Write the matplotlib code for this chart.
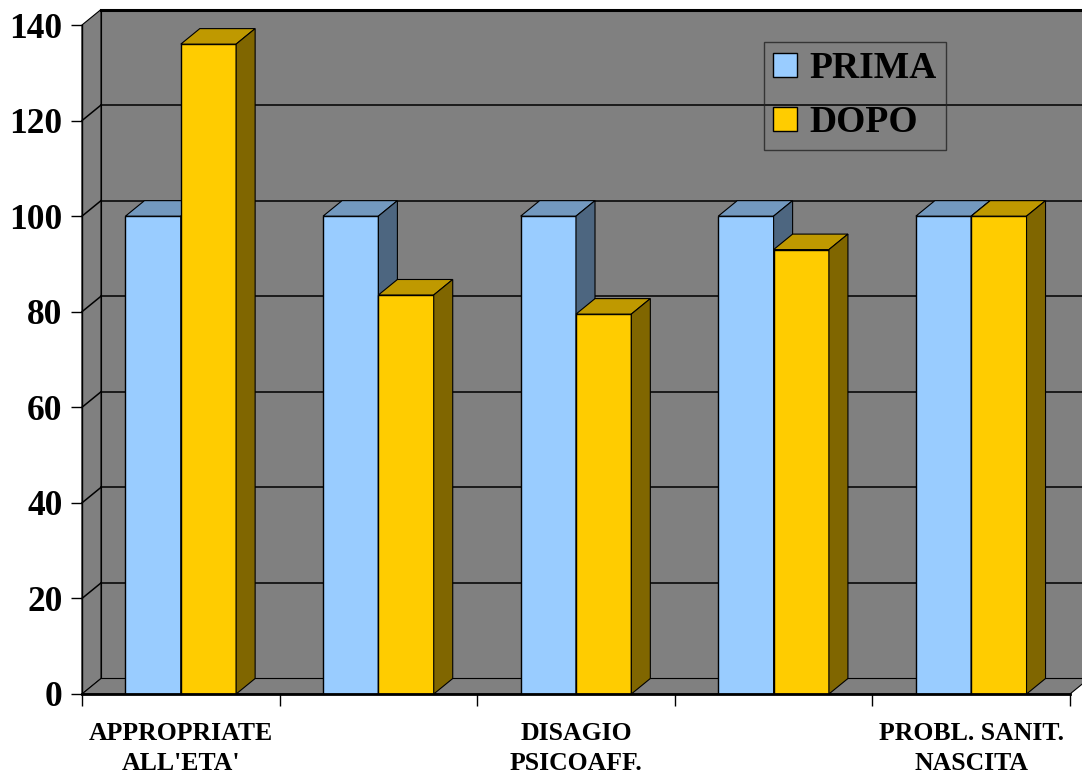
import matplotlib
matplotlib.use("Agg")
import matplotlib.pyplot as plt
from matplotlib.patches import Polygon, Patch
import numpy as np

# data
categories = ["APPROPRIATE\nALL'ETA'", "", "DISAGIO\nPSICOAFF.", "", "PROBL. SANIT.\nNASCITA"]
prima = [100, 100, 100, 100, 100]
dopo = [136, 83.5, 79.5, 93, 100]
series_names = ["PRIMA", "DOPO"]
y_ticks = [0, 20, 40, 60, 80, 100, 120, 140]

# face / top / side colours per series
colors = {
    "PRIMA": ("#99CCFF", "#7399BF", "#4D6680"),
    "DOPO": ("#FFCC00", "#BF9900", "#806600"),
}
WALL = "#808080"

plt.rcParams["font.family"] = ["Liberation Serif", "DejaVu Serif"]
plt.rcParams["font.weight"] = "bold"

fig = plt.figure(figsize=(10.82, 7.79), dpi=100)
ax = fig.add_axes([82 / 1082, 1 - 694 / 779, 988 / 1082, 669 / 779])
n = len(categories)
ymax = 140
ax.set_xlim(0, n)
ax.set_ylim(0, ymax)
ax.patch.set_visible(False)

# depth offset of the 3-D box, in data units
DX = 19 / (988 / n)
DY = 15.5 / (669 / ymax)


def poly(pts, fc, z, lw=0.8):
    p = Polygon(pts, closed=True, facecolor=fc, edgecolor="black",
                linewidth=lw, zorder=z, clip_on=False, joinstyle="miter")
    ax.add_patch(p)


# walls and floor
poly([(DX, DY), (n + DX, DY), (n + DX, ymax + DY), (DX, ymax + DY)], WALL, 0)
poly([(0, 0), (DX, DY), (DX, ymax + DY), (0, ymax)], WALL, 0)
poly([(0, 0), (n, 0), (n + DX, DY), (DX, DY)], WALL, 0)
ax.plot([DX, n + DX], [ymax + DY, ymax + DY], color="black", lw=2.2,
        zorder=1, clip_on=False)

# gridlines on back wall and side wall
for v in y_ticks[1:-1]:
    ax.plot([DX, n + DX], [v + DY, v + DY], color="black", lw=1.1,
            zorder=1, clip_on=False)
    ax.plot([0, DX], [v, v + DY], color="black", lw=1.1, zorder=1, clip_on=False)

# bars, left to right so right-hand bars hide the sides of the left ones
width = 0.28
x = np.arange(n)
z = 2
for i in range(n):
    for name, vals, off in (("PRIMA", prima, -width), ("DOPO", dopo, 0.0)):
        face, top, side = colors[name]
        x0 = x[i] + 0.5 + off
        x1 = x0 + width
        h = vals[i]
        ax.bar(x0, h, width=width, align="edge", color=face, edgecolor="black",
               linewidth=1.0, zorder=z)
        poly([(x0, h), (x1, h), (x1 + DX, h + DY), (x0 + DX, h + DY)], top, z)
        poly([(x1, 0), (x1 + DX, DY), (x1 + DX, h + DY), (x1, h)], side, z)
        z += 1

# axes, ticks, labels
for s in ("top", "right"):
    ax.spines[s].set_visible(False)
ax.spines["left"].set_linewidth(1.0)
ax.spines["bottom"].set_linewidth(2.0)
ax.spines["bottom"].set_zorder(50)
ax.set_yticks(y_ticks)
ax.set_yticklabels([str(t) for t in y_ticks], fontsize=25.5, fontweight="bold")
ax.tick_params(axis="y", length=8, width=1.0, pad=6)
ax.set_xticks(np.arange(n + 1))
ax.set_xticklabels([])
ax.tick_params(axis="x", which="major", length=8.6, width=1.0)
ax.set_xticks(x + 0.5, minor=True)
ax.set_xticklabels(categories, minor=True, fontsize=18.5, fontweight="bold",
                   linespacing=1.4)
ax.tick_params(axis="x", which="minor", length=0, pad=20)

handles = [Patch(facecolor=colors[s][0], edgecolor="black", linewidth=1.0)
           for s in series_names]
leg = ax.legend(handles, series_names, loc="upper left",
                bbox_to_anchor=(764 / 1082, 1 - 42 / 779),
                bbox_transform=fig.transFigure, prop={"size": 27, "weight": "bold"},
                frameon=True, fancybox=False, handlelength=0.62, handleheight=0.62,
                handletextpad=0.33, labelspacing=0.5, borderpad=0.25,
                borderaxespad=0)
leg.get_frame().set_facecolor("none")
leg.get_frame().set_edgecolor("#222222")
leg.get_frame().set_linewidth(1.0)
leg.set_zorder(100)

fig.savefig("out.png", dpi=100, facecolor="white")
